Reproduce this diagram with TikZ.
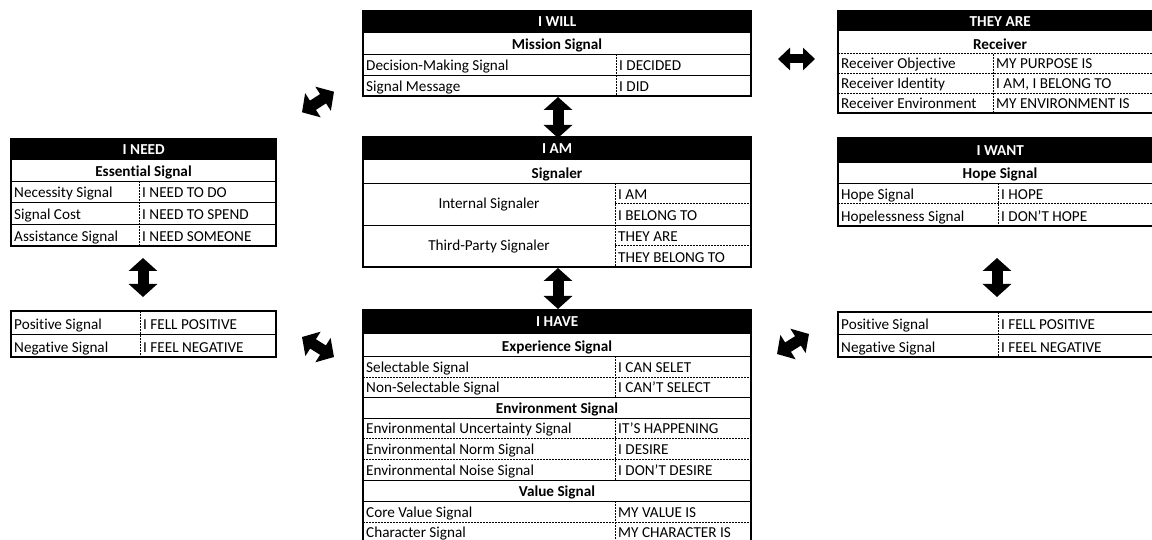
\documentclass[tikz,border=0pt]{standalone}
\usepackage{fontspec}
\setmainfont{Carlito}[Ligatures=NoCommon]
\usetikzlibrary{arrows.meta}

\begin{document}
\begin{tikzpicture}[x=1pt,y=-1pt,
    every node/.style={inner sep=0pt,font=\fontsize{15.2}{18}\selectfont},
    head/.style={fill=black,text=white,anchor=north west,
                 font=\fontsize{15.2}{18}\selectfont\bfseries},
    sect/.style={anchor=base,font=\fontsize{15.2}{18}\selectfont\bfseries},
    lbl/.style={anchor=base west},
    mid/.style={anchor=base},
    frame/.style={line width=1.8pt},
    rule/.style={line width=0.9pt},
    dots/.style={line width=1pt,dash pattern=on 1.6pt off 1.4pt},
    twoway/.style={line width=11pt,
                   {Triangle[width=28pt,length=13pt]}-{Triangle[width=28pt,length=13pt]}}]
  \useasboundingbox (0,0) rectangle (1152,540);
  \clip (0,0) rectangle (1152,540);

  % I WILL
  \node[head,minimum width=388pt,minimum height=21pt] (will) at (363,11) {I WILL};
  \node[sect] (willS) at (557,49.5) {Mission Signal};
  \node[lbl] (will1)  at (366,70.5) {Decision-Making Signal};
  \node[lbl] (will1v) at (619,70.5) {I DECIDED};
  \node[lbl] (will2)  at (366,91.5) {Signal Message};
  \node[lbl] (will2v) at (619,91.5) {I DID};
  \draw[rule] (363,32) -- (751,32) (363,54) -- (751,54) (363,75) -- (751,75);
  \draw[dots] (616,54) -- (616,96);
  \draw[frame] (363,11) rectangle (751,96);

  % THEY ARE
  \node[head,minimum width=324pt,minimum height=20pt] (they) at (838,11) {THEY ARE};
  \node[sect] (theyS) at (1000,49.5) {Receiver};
  \node[lbl] (they1)  at (841,69) {Receiver Objective};
  \node[lbl] (they1v) at (996,69) {MY PURPOSE IS};
  \node[lbl] (they2)  at (841,89) {Receiver Identity};
  \node[lbl] (they2v) at (996,89) {I AM, I BELONG TO};
  \node[lbl] (they3)  at (841,108.5) {Receiver Environment};
  \node[lbl] (they3v) at (996,108.5) {MY ENVIRONMENT IS};
  \draw[dots] (838,54) -- (1162,54) (838,73.5) -- (1162,73.5)
              (838,93.5) -- (1162,93.5) (993,54) -- (993,113);
  \draw[frame] (838,11) rectangle (1162,113);

  % I NEED
  \node[head,minimum width=265pt,minimum height=20pt] (need) at (11,139) {I NEED};
  \node[sect] (needS) at (143.5,176.5) {Essential Signal};
  \node[lbl] (need1)  at (14,197.5) {Necessity Signal};
  \node[lbl] (need1v) at (142,197.5) {I NEED TO DO};
  \node[lbl] (need2)  at (14,219.5) {Signal Cost};
  \node[lbl] (need2v) at (142,219.5) {I NEED TO SPEND};
  \node[lbl] (need3)  at (14,241.5) {Assistance Signal};
  \node[lbl] (need3v) at (142,241.5) {I NEED SOMEONE};
  \draw[rule] (11,159) -- (276,159) (11,181) -- (276,181)
              (11,202) -- (276,202) (11,224) -- (276,224);
  \draw[dots] (139,181) -- (139,246);
  \draw[frame] (11,139) rectangle (276,246);

  % left feelings
  \node[lbl] (lpos)  at (14,329.5) {Positive Signal};
  \node[lbl] (lposv) at (143,329.5) {I FELL POSITIVE};
  \node[lbl] (lneg)  at (14,352.5) {Negative Signal};
  \node[lbl] (lnegv) at (143,352.5) {I FEEL NEGATIVE};
  \draw[rule] (11,334) -- (276,334);
  \draw[dots] (140,311) -- (140,357);
  \draw[frame] (11,311) rectangle (276,357);

  % I AM
  \node[head,minimum width=388pt,minimum height=22pt] (am) at (363,137) {I AM};
  \node[sect] (amS) at (557,178.5) {Signaler};
  \node[mid] (am1)  at (489,208.5) {Internal Signaler};
  \node[lbl] (am1a) at (618,199.5) {I AM};
  \node[lbl] (am1b) at (618,220.5) {I BELONG TO};
  \node[mid] (am2)  at (489,250.5) {Third-Party Signaler};
  \node[lbl] (am2a) at (618,241.5) {THEY ARE};
  \node[lbl] (am2b) at (618,262.5) {THEY BELONG TO};
  \draw[rule] (363,159) -- (751,159) (363,183) -- (751,183) (363,225) -- (751,225);
  \draw[dots] (615,204) -- (751,204) (615,246) -- (751,246) (615,183) -- (615,267);
  \draw[frame] (363,137) rectangle (751,267);

  % I HAVE
  \node[head,minimum width=388pt,minimum height=23pt] (have) at (363,310) {I HAVE};
  \node[sect] (haveS1) at (557,351.5) {Experience Signal};
  \node[lbl] (have1)  at (366,372.5) {Selectable Signal};
  \node[lbl] (have1v) at (618,372.5) {I CAN SELET};
  \node[lbl] (have2)  at (366,392.5) {Non-Selectable Signal};
  \node[lbl] (have2v) at (618,392.5) {I CAN'T SELECT};
  \node[sect] (haveS2) at (557,413.5) {Environment Signal};
  \node[lbl] (have3)  at (366,433.5) {Environmental Uncertainty Signal};
  \node[lbl] (have3v) at (618,433.5) {IT'S HAPPENING};
  \node[lbl] (have4)  at (366,454.5) {Environmental Norm Signal};
  \node[lbl] (have4v) at (618,454.5) {I DESIRE};
  \node[lbl] (have5)  at (366,475.5) {Environmental Noise Signal};
  \node[lbl] (have5v) at (618,475.5) {I DON'T DESIRE};
  \node[sect] (haveS3) at (557,496.5) {Value Signal};
  \node[lbl] (have6)  at (366,517.5) {Core Value Signal};
  \node[lbl] (have6v) at (618,517.5) {MY VALUE IS};
  \node[lbl] (have7)  at (366,537.5) {Character Signal};
  \node[lbl] (have7v) at (618,537.5) {MY CHARACTER IS};
  \draw[rule] (363,333) -- (751,333) (363,356) -- (751,356) (363,397) -- (751,397)
              (363,418) -- (751,418) (363,480) -- (751,480) (363,501) -- (751,501);
  \draw[dots] (363,377) -- (751,377) (363,438) -- (751,438)
              (363,459) -- (751,459) (363,522) -- (751,522)
              (615,356) -- (615,397) (615,418) -- (615,480) (615,501) -- (615,542);
  \draw[frame] (363,310) rectangle (751,542);

  % I WANT
  \node[head,minimum width=324pt,minimum height=24pt] (want) at (838,138) {I WANT};
  \node[sect] (wantS) at (1000,178.5) {Hope Signal};
  \node[lbl] (want1)  at (841,199.5) {Hope Signal};
  \node[lbl] (want1v) at (1001,199.5) {I HOPE};
  \node[lbl] (want2)  at (841,221.5) {Hopelessness Signal};
  \node[lbl] (want2v) at (1001,221.5) {I DON'T HOPE};
  \draw[rule] (838,162) -- (1162,162) (838,183) -- (1162,183);
  \draw[dots] (838,204) -- (1162,204) (998,183) -- (998,226);
  \draw[frame] (838,138) rectangle (1162,226);

  % right feelings
  \node[lbl] (rpos)  at (841,329.5) {Positive Signal};
  \node[lbl] (rposv) at (1001,329.5) {I FELL POSITIVE};
  \node[lbl] (rneg)  at (841,352.5) {Negative Signal};
  \node[lbl] (rnegv) at (1001,352.5) {I FEEL NEGATIVE};
  \draw[rule] (838,334) -- (1162,334);
  \draw[dots] (998,312) -- (998,357);
  \draw[frame] (838,312) rectangle (1162,357);

  % block arrows
  \coordinate (w1) at (302,112.3);  \coordinate (w2) at (334,91.7);
  \coordinate (t1) at (778,59);     \coordinate (t2) at (815,59);
  \coordinate (m1) at (558,97);     \coordinate (m2) at (558,138);
  \coordinate (n1) at (143,258);    \coordinate (n2) at (143,297);
  \coordinate (p1) at (302,337);    \coordinate (p2) at (334,357);
  \coordinate (h1) at (558,268);    \coordinate (h2) at (558,309);
  \coordinate (r1) at (997,258);    \coordinate (r2) at (997,297);
  \coordinate (q1) at (777,354);    \coordinate (q2) at (809,334);
  \path[twoway]
    (w1) edge (w2)
    (m1) edge (m2)
    (n1) edge (n2)
    (p1) edge (p2)
    (h1) edge (h2)
    (r1) edge (r2)
    (q1) edge (q2);
  \path[line width=9pt,{Triangle[width=22pt,length=12pt]}-{Triangle[width=22pt,length=12pt]}]
    (t1) edge (t2);
\end{tikzpicture}
\end{document}
